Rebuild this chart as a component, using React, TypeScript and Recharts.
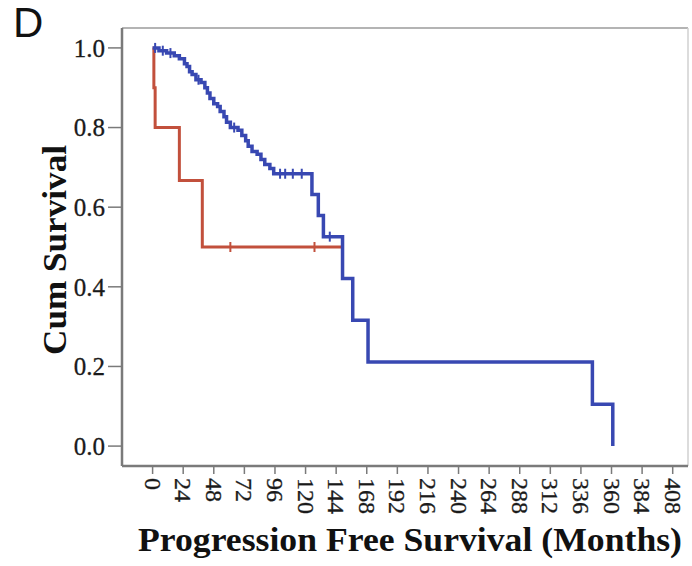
import React from 'react';
import { LineChart, Line, XAxis, YAxis, ReferenceLine } from 'recharts';

// event times (months) and survival after each event
const blueMonths = [0, 5, 11, 17, 21, 25, 27, 29, 31, 34, 38, 41, 43, 45, 48, 51, 53, 56, 58, 61, 67, 70, 73, 75, 78, 82, 85, 88, 92, 95, 125, 130, 134, 149, 157, 169, 345, 361];
const blueSurvival = [1.0, 0.993, 0.987, 0.98, 0.973, 0.96, 0.953, 0.94, 0.933, 0.92, 0.913, 0.9, 0.887, 0.873, 0.86, 0.853, 0.84, 0.827, 0.813, 0.8, 0.793, 0.78, 0.767, 0.753, 0.74, 0.733, 0.72, 0.707, 0.697, 0.684, 0.632, 0.579, 0.526, 0.421, 0.316, 0.211, 0.105, 0.0];
const blueCensored = [2, 8, 14, 36, 64, 100, 104, 110, 117, 139];

const redMonths = [0, 1, 2, 21, 39, 149];
const redSurvival = [1.0, 0.9, 0.8, 0.667, 0.5, 0.5];
const redCensored = [61, 127];

const xTicks = [0, 24, 48, 72, 96, 120, 144, 168, 192, 216, 240, 264, 288, 312, 336, 360, 384, 408];
const yTicks = [0, 0.2, 0.4, 0.6, 0.8, 1.0];

const BLUE = '#3848b2';
const RED = '#c2503c';
const SERIF = '"Liberation Serif", "Times New Roman", serif';

type Row = { t: number; s: number; c: boolean };

// merge events and censored times into one step series
const buildRows = (months: number[], surv: number[], censored: number[]): Row[] => {
  const rows: Row[] = months.map((t, i) => ({ t, s: surv[i], c: false }));
  censored.forEach((t) => {
    let s = surv[0];
    months.forEach((m, i) => {
      if (m <= t) s = surv[i];
    });
    rows.push({ t, s, c: true });
  });
  return rows.sort((a, b) => a.t - b.t);
};

const blueRows = buildRows(blueMonths, blueSurvival, blueCensored);
const redRows = buildRows(redMonths, redSurvival, redCensored);

const censorMark = (color: string) => (props: any) => {
  const { cx, cy, payload, index } = props;
  if (!payload || !payload.c) return <g key={`n${index}`} />;
  return <line key={`c${index}`} x1={cx} x2={cx} y1={cy - 5} y2={cy + 5} stroke={color} strokeWidth={2} />;
};

const XTick = ({ x, y, payload }: any) => (
  <text
    transform={`translate(${x},${y + 2}) rotate(90)`}
    textAnchor="start"
    dominantBaseline="central"
    fontFamily={SERIF}
    fontSize={24}
    fill="#1a1a1a"
    stroke="#1a1a1a"
    strokeWidth={0.3}
  >
    {payload.value}
  </text>
);

const XTitle = ({ viewBox }: any) => (
  <text
    x={viewBox.x + viewBox.width / 2 + 5}
    y={551}
    textAnchor="middle"
    textLength={544}
    lengthAdjust="spacingAndGlyphs"
    fontFamily={SERIF}
    fontWeight="bold"
    fontSize={34}
    fill="#111"
  >
    Progression Free Survival (Months)
  </text>
);

const YTitle = ({ viewBox }: any) => (
  <text
    transform={`translate(66,${viewBox.y + viewBox.height / 2 + 3}) rotate(-90)`}
    textAnchor="middle"
    textLength={210}
    lengthAdjust="spacingAndGlyphs"
    fontFamily={SERIF}
    fontWeight="bold"
    fontSize={34}
    fill="#111"
  >
    Cum Survival
  </text>
);

export default function App() {
  return (
    <div style={{ position: 'absolute', left: 0, top: 0, width: 692, height: 566, background: '#fff' }}>
      <div
        style={{
          position: 'absolute',
          left: 13,
          top: 2,
          fontFamily: '"Liberation Sans", Arial, sans-serif',
          fontSize: 42,
          lineHeight: '42px',
          color: '#111',
        }}
      >
        D
      </div>
      <LineChart width={692} height={566} margin={{ top: 28, right: 4, left: 0, bottom: 0 }}>
        <XAxis
          type="number"
          dataKey="t"
          domain={[-24, 420]}
          ticks={xTicks}
          allowDataOverflow
          height={100}
          tickSize={8}
          tickMargin={2}
          tick={<XTick />}
          axisLine={{ stroke: '#7a7a7a', strokeWidth: 2.5 }}
          tickLine={{ stroke: '#7a7a7a', strokeWidth: 1.5 }}
          label={<XTitle />}
        />
        <YAxis
          type="number"
          domain={[-0.05, 1.05]}
          ticks={yTicks}
          allowDataOverflow
          width={122}
          tickSize={14}
          tickMargin={3}
          tickFormatter={(v: number) => v.toFixed(1)}
          tick={{ fontFamily: SERIF, fontSize: 25, fill: '#1a1a1a', stroke: '#1a1a1a', strokeWidth: 0.3 }}
          axisLine={{ stroke: '#7a7a7a', strokeWidth: 2.5 }}
          tickLine={{ stroke: '#7a7a7a', strokeWidth: 1.5 }}
          label={<YTitle />}
        />
        <ReferenceLine y={1.05} stroke="#b4b4b4" strokeWidth={2} ifOverflow="visible" />
        <ReferenceLine x={420} stroke="#d0d0d0" strokeWidth={1.5} ifOverflow="visible" />
        <Line
          data={redRows}
          dataKey="s"
          type="stepAfter"
          stroke={RED}
          strokeWidth={3}
          dot={censorMark(RED)}
          activeDot={false}
          isAnimationActive={false}
        />
        <Line
          data={blueRows}
          dataKey="s"
          type="stepAfter"
          stroke={BLUE}
          strokeWidth={3.5}
          dot={censorMark(BLUE)}
          activeDot={false}
          isAnimationActive={false}
        />
      </LineChart>
    </div>
  );
}
